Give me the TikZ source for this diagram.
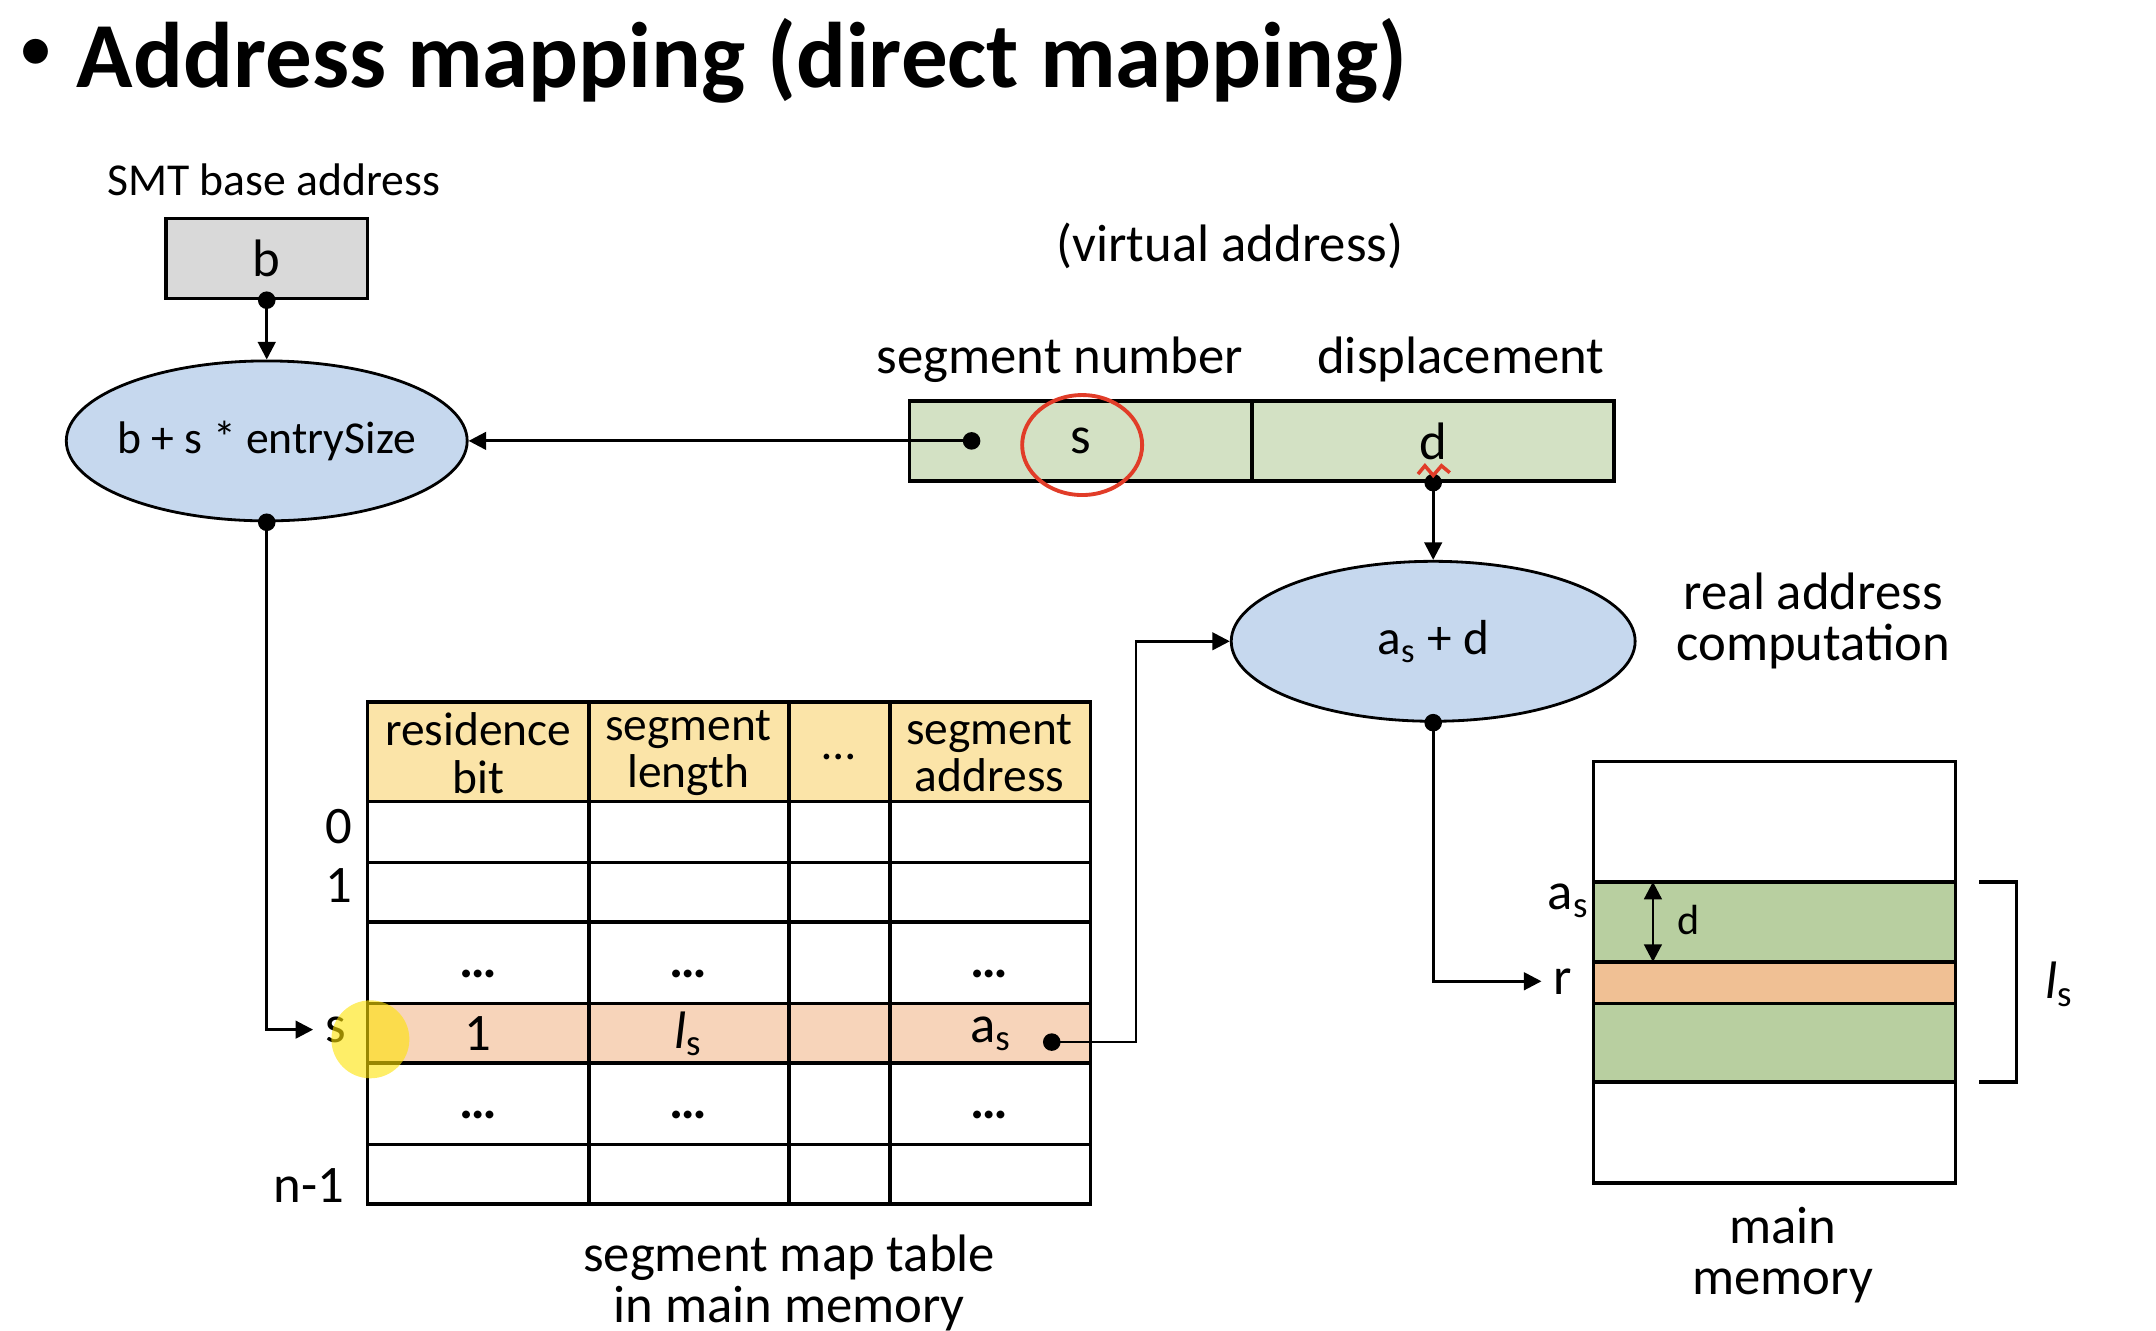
\documentclass[tikz,border=0pt]{standalone}
\usepackage{fontspec}
\setmainfont{Carlito}
\usetikzlibrary{arrows.meta,shapes.geometric}

\definecolor{boxgray}{RGB}{217,217,217}
\definecolor{calcblue}{RGB}{198,216,238}
\definecolor{vagreen}{RGB}{211,225,196}
\definecolor{memgreen}{RGB}{184,207,160}
\definecolor{mempeach}{RGB}{240,192,148}
\definecolor{headyellow}{RGB}{251,228,168}
\definecolor{rowpeach}{RGB}{247,212,186}
\definecolor{penred}{RGB}{225,60,40}

\begin{document}
\begin{tikzpicture}[x=0.01382cm,y=-0.01382cm,
    >={Triangle[length=5pt,width=5pt]},
    every node/.style={font=\fontsize{15}{14.5}\selectfont},
    smalltext/.style={font=\fontsize{13}{13.5}\selectfont},
    calcnode/.style={ellipse,draw,line width=0.8pt,fill=calcblue,inner sep=0pt,minimum height=1.6cm},
    vacell/.style={rectangle,draw,line width=1pt,fill=vagreen,minimum height=0.8cm},
    wire/.style={line width=0.8pt}]
\useasboundingbox (0,0) rectangle (1560,962.4);

    % title
    \node[font=\fontsize{20}{24}\selectfont] (bullet) at (26,40) {•};
    \node[anchor=base west,inner sep=0pt,font=\fontsize{26.5}{30}\selectfont\bfseries] (title) at (55,63) {Address mapping (direct mapping)};

    % base address and first computation
    \node[smalltext] (smt) at (198,130) {SMT base address};
    \node[rectangle,draw,line width=1pt,fill=boxgray,minimum width=2.02cm,minimum height=0.8cm] (base) at (193,187) {b};
    \node[calcnode,minimum width=4.01cm,smalltext] (calc) at (193,319) {\makebox[0pt]{b + s * entrySize}};

    % virtual address
    \node (va) at (890,178) {(virtual address)};
    \node (segnum) at (767,260) {segment number};
    \node (displ) at (1057,260) {displacement};
    \node[vacell,minimum width=3.43cm] (sfield) at (782,319) {s};
    \node[vacell,minimum width=3.62cm] (dfield) at (1037,319) {d};
    \coordinate (sdot) at (703,319);

    % real address computation
    \node[calcnode,minimum width=4.04cm,font=\fontsize{14}{16}\selectfont] (sum) at (1037,464) {\makebox[0pt]{a\textsubscript{s} + d}};
    \node[align=center] (realc) at (1312,449) {real address\\computation};

    % segment map table
    \fill[headyellow] (266,508) rectangle (789,580);
    \fill[rowpeach] (266,726) rectangle (789,769);
    \draw[line width=1pt] (266,508) rectangle (789,871)
        (266,580) -- (789,580) (266,624) -- (789,624) (266,667) -- (789,667)
        (266,726) -- (789,726) (266,769) -- (789,769) (266,828) -- (789,828)
        (426,508) -- (426,871) (571,508) -- (571,871) (644,508) -- (644,871);
    \begin{scope}[every node/.style={font=\fontsize{13.5}{13.5}\selectfont,align=center}]
    \node (hres) at (346,545) {residence\\bit};
    \node (hlen) at (498,545) {segment\\length};
    \node (hdots) at (607,548) {…};
    \node (hadr) at (716,545) {segment\\address};
    \end{scope}

    \node (r0) at (245,598) {0};
    \node (r1) at (245,641) {1};
    \node (slab) at (243,745) {s};
    \node[anchor=east] (rn) at (258,858) {n-1};

    \node[anchor=base] (d1a) at (346,707) {\textbf{…}};
    \node[anchor=base] (d1b) at (498,707) {\textbf{…}};
    \node[anchor=base] (d1c) at (716,707) {\textbf{…}};
    \node[anchor=base] (d2a) at (346,809) {\textbf{…}};
    \node[anchor=base] (d2b) at (498,809) {\textbf{…}};
    \node[anchor=base] (d2c) at (716,809) {\textbf{…}};

    \node (res) at (346,748) {1};
    \node (len) at (498,748) {\textit{l}\textsubscript{s}};
    \node (adr) at (717,748) {a\textsubscript{s}};
    \coordinate (asdot) at (761,754);

    \node[align=center] (smtcap) at (571,928) {segment map table\\in main memory};

    % main memory
    \fill[memgreen] (1153,638) rectangle (1415,783);
    \fill[mempeach] (1153,696) rectangle (1415,726);
    \draw[line width=1pt] (1153,551) rectangle (1415,856)
        (1153,638) -- (1415,638) (1153,696) -- (1415,696)
        (1153,726) -- (1415,726) (1153,783) -- (1415,783);
    \coordinate (dtop) at (1196,638);
    \coordinate (dbot) at (1196,696);
    \draw[wire,<->] (dtop) -- (dbot);
    \node[font=\fontsize{12}{14}\selectfont] (dlab) at (1222,666) {d};
    \node (aslab) at (1135,652) {a\textsubscript{s}};
    \node (rlab) at (1131,710) {r};
    \draw[line width=1pt] (1432,638) -- (1459,638) -- (1459,783) -- (1432,783);
    \node (lslab) at (1490,712) {\textit{l}\textsubscript{s}};
    \node[align=center] (memcap) at (1290,908) {main\\memory};

    % connectors
    \draw[wire,->] (base.south) -- (calc.north);
    \draw[wire,->] (sdot) -- (calc.east);
    \draw[wire,->] (dfield.south) -- (sum.north);
    \draw[wire,->] (calc.south) |- (slab.west);
    \draw[wire,->] (asdot) -- ++(61,0) |- (sum.west);
    \draw[wire,->] (sum.south) |- (rlab.west);

    \fill (base.south) circle[radius=2.5pt];
    \fill (calc.south) circle[radius=2.5pt];
    \fill (sdot) circle[radius=2.5pt];
    \fill (dfield.south) circle[radius=2.5pt];
    \fill (sum.south) circle[radius=2.5pt];
    \fill (asdot) circle[radius=2.5pt];

    % pen marks
    \draw[penred,line width=1.1pt] (783,322) ellipse [x radius=0.6cm,y radius=0.5cm];
    \draw[penred,line width=1pt] (1026,343) -- (1031,337) -- (1037,344) -- (1043,337) -- (1049,342);
    \fill[yellow!85!orange,opacity=0.6] (268,752) circle[radius=0.39cm];

\end{tikzpicture}
\end{document}
